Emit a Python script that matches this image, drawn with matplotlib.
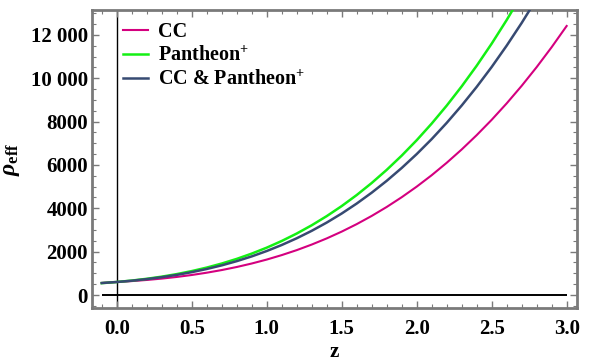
import matplotlib
matplotlib.use("Agg")
import matplotlib.pyplot as plt
from matplotlib.ticker import MultipleLocator, FixedLocator

plt.rcParams['font.family'] = ['Liberation Serif', 'DejaVu Serif']
plt.rcParams['font.weight'] = 'bold'
plt.rcParams['mathtext.fontset'] = 'custom'
plt.rcParams['mathtext.rm'] = 'Liberation Serif:bold'
plt.rcParams['mathtext.it'] = 'Liberation Serif:italic'
plt.rcParams['mathtext.bf'] = 'Liberation Serif:bold'

# --- colours ---
COLOR_CC = "#d4007f"
COLOR_PAN = "#14f014"
COLOR_BOTH = "#374a72"
FRAME = "#7a7a7a"

# --- data ---
z_cc = [-0.1, 0.0, 0.1, 0.2, 0.3, 0.4, 0.5, 0.6, 0.7, 0.8, 0.9, 1.0, 1.1, 1.2,
        1.3, 1.4, 1.5, 1.6, 1.7, 1.8, 1.9, 2.0, 2.1, 2.2, 2.3, 2.4, 2.5, 2.6,
        2.7, 2.8, 2.9, 3.0]
rho_cc = [555, 600, 642, 694, 757, 833, 923, 1029, 1151, 1292, 1453, 1635,
          1841, 2070, 2327, 2611, 2925, 3270, 3648, 4061, 4511, 4999, 5527,
          6099, 6714, 7375, 8082, 8840, 9650, 10514, 11434, 12412]

z_pan = [-0.1, 0.0, 0.1, 0.2, 0.3, 0.4, 0.5, 0.6, 0.7, 0.8, 0.9, 1.0, 1.1, 1.2,
         1.3, 1.4, 1.5, 1.6, 1.7, 1.8, 1.9, 2.0, 2.1, 2.2, 2.3, 2.4, 2.5, 2.6, 2.7]
rho_pan = [547, 600, 666, 748, 846, 964, 1103, 1265, 1452, 1666, 1910, 2184,
           2492, 2836, 3217, 3639, 4103, 4612, 5168, 5773, 6430, 7141, 7909,
           8736, 9625, 10577, 11596, 12686, 13846]

z_both = [-0.1, 0.0, 0.1, 0.2, 0.3, 0.4, 0.5, 0.6, 0.7, 0.8, 0.9, 1.0, 1.1, 1.2,
          1.3, 1.4, 1.5, 1.6, 1.7, 1.8, 1.9, 2.0, 2.1, 2.2, 2.3, 2.4, 2.5, 2.6,
          2.7, 2.8]
rho_both = [552, 600, 659, 733, 822, 928, 1054, 1200, 1368, 1562, 1781, 2029,
            2307, 2617, 2961, 3341, 3760, 4219, 4721, 5267, 5860, 6501, 7193,
            7940, 8742, 9601, 10520, 11504, 12551, 13665]

y_ticks = [0, 2000, 4000, 6000, 8000, 10000, 12000]
y_ticklabels = ["0", "2000", "4000", "6000", "8000", "10 000", "12 000"]
x_ticks = [0.0, 0.5, 1.0, 1.5, 2.0, 2.5, 3.0]

fig = plt.figure(figsize=(5.91, 3.63), dpi=100)
ax = fig.add_axes([0.1557, 0.1515, 0.8206, 0.821])

# coordinate axes through the origin (Mathematica style)
ax.hlines(0, z_cc[0], z_cc[-1], color="black", lw=1.4, zorder=1)
ax.axvline(0, color="black", lw=1.0, zorder=1)

ax.plot(z_cc, rho_cc, color=COLOR_CC, lw=1.5, label="CC", zorder=3)
ax.plot(z_pan, rho_pan, color=COLOR_PAN, lw=1.8, label=r"Pantheon$^{\mathbf{+}}$", zorder=3)
ax.plot(z_both, rho_both, color=COLOR_BOTH, lw=1.8,
        label=r"CC & Pantheon$^{\mathbf{+}}$", zorder=4)

ax.set_xlim(-0.165, 3.069)
ax.set_ylim(-600, 13150)

ax.xaxis.set_major_locator(FixedLocator(x_ticks))
ax.xaxis.set_minor_locator(MultipleLocator(0.1))
ax.set_xticklabels([f"{t:.1f}" for t in x_ticks])
ax.yaxis.set_major_locator(FixedLocator(y_ticks))
ax.yaxis.set_minor_locator(MultipleLocator(500))
ax.set_yticklabels(y_ticklabels)

ax.tick_params(which="both", direction="in", top=True, right=True, color=FRAME,
               labelsize=15, labelcolor="black")
ax.tick_params(which="major", length=5, width=1.0)
ax.tick_params(which="minor", length=3, width=0.8)
ax.tick_params(axis="x", which="major", pad=8)
ax.tick_params(axis="y", which="major", pad=3)
for lab in ax.get_xticklabels() + ax.get_yticklabels():
    lab.set_fontweight("bold")

for sp in ax.spines.values():
    sp.set_color(FRAME)
    sp.set_linewidth(2.0)

ax.set_xlabel("z", fontsize=15, fontweight="bold", labelpad=2)
ax.set_ylabel(r"$\rho_{\mathbf{eff}}$", fontsize=17, labelpad=6)

leg = ax.legend(loc="upper left", bbox_to_anchor=(0.047, 0.987), frameon=False,
                prop={"size": 14.5, "weight": "bold"}, handlelength=1.25,
                handletextpad=0.5, labelspacing=0.2, borderaxespad=0.0)

fig.savefig("out.png", dpi=100)
